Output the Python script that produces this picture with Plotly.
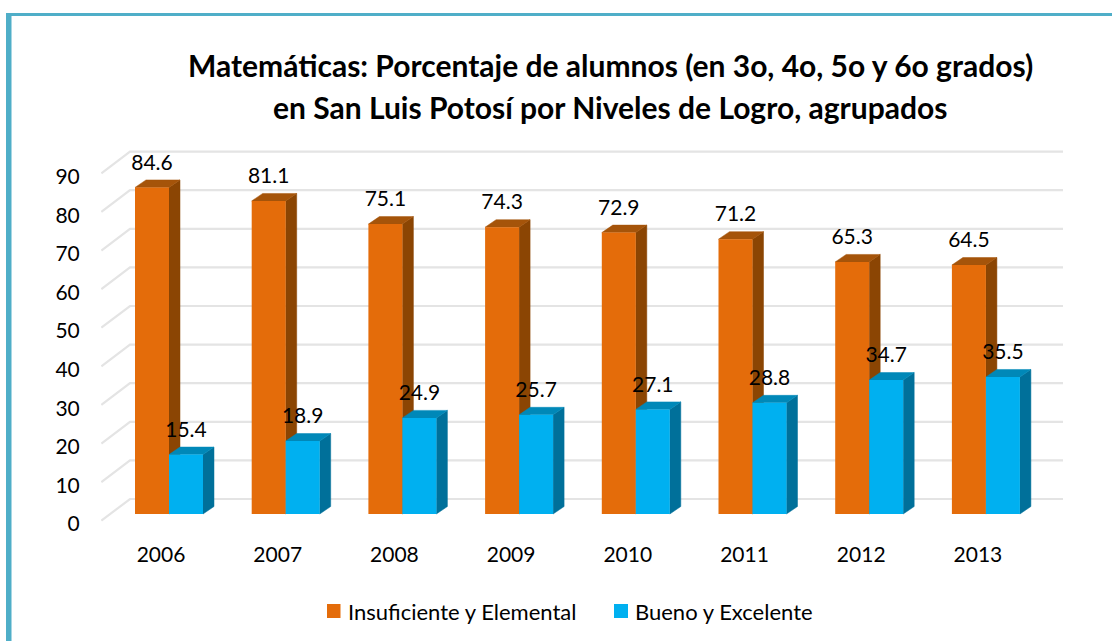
import plotly.graph_objects as go

YEARS = ["2006", "2007", "2008", "2009", "2010", "2011", "2012", "2013"]
INSUFICIENTE = [84.6, 81.1, 75.1, 74.3, 72.9, 71.2, 65.3, 64.5]
BUENO = [15.4, 18.9, 24.9, 25.7, 27.1, 28.8, 34.7, 35.5]
Y_TICKS = [0, 10, 20, 30, 40, 50, 60, 70, 80, 90]

_FONT = "Lato"
_TEAL = "#4FAEC8"
_GRID = "#E4E4E4"
_ORANGE = ("#E46C0A", "#8B4503", "#A5540A")  # front, side, top
_BLUE = ("#00B0F0", "#00709A", "#0088B8")

# plot area in page pixels
_LEFT, _RIGHT, _TOP, _BOTTOM = 101, 1063, 145, 525
_PX_X = 116.7  # pixels per category
_PX_Y = 3.86   # pixels per percentage point

_BAR_W = 34 / _PX_X
_DEPTH_X = 11 / _PX_X
_DEPTH_Y = 7.5 / _PX_Y
_WALL_X = (130 - 169) / _PX_X
_WALL_Y = 15 / _PX_Y
_EDGE_Y = -6.7 / _PX_Y
_LABEL_Y = 23 / _PX_Y
_YEAR_X = -8 / _PX_X
_TICK_Y = -10 / _PX_Y


def _paper_x(px):
    return (px - _LEFT) / (_RIGHT - _LEFT)


def _paper_y(py):
    return (_BOTTOM - py) / (_BOTTOM - _TOP)


def _face(fig, xs, ys, color, zorder):
    """Filled polygon for a side or top face of a bar."""
    fig.add_trace(go.Scatter(
        x=xs, y=ys, mode="lines", fill="toself", fillcolor=color,
        line={"color": color, "width": 0.5}, hoverinfo="skip",
        showlegend=False, zorder=zorder,
    ))


def _add_series(fig, values, name, colors, offset, zorder):
    """Front bars from go.Bar, plus side and top faces behind them."""
    for i, v in enumerate(values):
        x0 = i + offset
        x1 = x0 + _BAR_W
        _face(fig, [x1, x1 + _DEPTH_X, x1 + _DEPTH_X, x1, x1],
              [0, _DEPTH_Y, v + _DEPTH_Y, v, 0], colors[1], zorder)
        _face(fig, [x0, x1, x1 + _DEPTH_X, x0 + _DEPTH_X, x0],
              [v, v, v + _DEPTH_Y, v + _DEPTH_Y, v], colors[2], zorder)
    fig.add_trace(go.Bar(
        x=list(range(len(values))), y=values, name=name,
        width=_BAR_W, offset=offset, marker_color=colors[0],
        marker_line_width=0, showlegend=False, zorder=zorder + 1,
    ))


def _text(text, px, py, size, anchor="center"):
    return {"text": text, "xref": "paper", "yref": "paper",
            "x": _paper_x(px), "y": _paper_y(py),
            "xanchor": anchor, "yanchor": "middle", "showarrow": False,
            "font": {"family": _FONT, "size": size, "color": "#000000"}}


def _rect(x0, x1, y0, y1, color):
    return {"type": "rect", "xref": "paper", "yref": "paper", "layer": "below",
            "x0": _paper_x(x0), "x1": _paper_x(x1),
            "y0": _paper_y(y0), "y1": _paper_y(y1),
            "fillcolor": color, "line": {"width": 0}}


x_min = (_LEFT - 169) / _PX_X
x_max = (_RIGHT - 169) / _PX_X
y_min = (514 - _BOTTOM) / _PX_Y
y_max = (514 - _TOP) / _PX_Y

fig = go.Figure()

for t in Y_TICKS:
    fig.add_trace(go.Scatter(
        x=[x_min + 0.003, _WALL_X, x_max],
        y=[t + _EDGE_Y, t + _WALL_Y, t + _WALL_Y],
        mode="lines", line={"color": _GRID, "width": 2.2},
        hoverinfo="skip", showlegend=False, zorder=0,
    ))

_add_series(fig, INSUFICIENTE, "Insuficiente y Elemental", _ORANGE, -_BAR_W, 1)
_add_series(fig, BUENO, "Bueno y Excelente", _BLUE, 0, 3)

for values, offset in ((INSUFICIENTE, -_BAR_W / 2), (BUENO, _BAR_W / 2)):
    fig.add_trace(go.Scatter(
        x=[i + offset for i in range(len(values))],
        y=[v + _LABEL_Y for v in values],
        text=[f"{v:.1f}" for v in values],
        mode="text", textposition="middle center",
        textfont={"family": _FONT, "size": 21, "color": "#000000"},
        hoverinfo="skip", showlegend=False, zorder=5,
    ))

fig.update_layout(
    width=1112, height=641, autosize=False,
    margin={"l": _LEFT, "r": 1112 - _RIGHT, "t": _TOP, "b": 641 - _BOTTOM, "pad": 0},
    paper_bgcolor="white", plot_bgcolor="white",
    font={"family": _FONT, "size": 21, "color": "#000000"},
    barmode="overlay",
    showlegend=False,
    xaxis={
        "range": [x_min, x_max], "showgrid": False, "zeroline": False, "showline": False,
        "tickmode": "array", "tickvals": [i + _YEAR_X for i in range(len(YEARS))],
        "ticktext": YEARS, "ticks": "outside", "ticklen": 11, "tickcolor": "rgba(0,0,0,0)",
        "tickfont": {"family": _FONT, "size": 21},
    },
    yaxis={
        "range": [y_min, y_max], "showgrid": False, "zeroline": False, "showline": False,
        "tickmode": "array", "tickvals": [t + _TICK_Y for t in Y_TICKS],
        "ticktext": [str(t) for t in Y_TICKS], "ticks": "outside", "ticklen": 16,
        "tickcolor": "rgba(0,0,0,0)", "tickfont": {"family": _FONT, "size": 21},
    },
    annotations=[
        _text("<b>Matemáticas: Porcentaje de alumnos (en 3o, 4o, 5o y 6o grados)</b>", 610, 65, 30),
        _text("<b>en San Luis Potosí por Niveles de Logro, agrupados</b>", 610, 107, 30),
        _text("Insuficiente y Elemental", 346, 611, 22, "left"),
        _text("Bueno y Excelente", 633, 611, 22, "left"),
    ],
    shapes=[
        _rect(6, 11.5, 13, 641, _TEAL),
        _rect(6, 1112, 13, 16, _TEAL),
        _rect(327, 340.5, 604, 618, _ORANGE[0]),
        _rect(614, 628, 604, 618, _BLUE[0]),
    ],
)

fig.write_html("out.html", config={"displayModeBar": False},
               post_script="document.body.style.margin='0';")
